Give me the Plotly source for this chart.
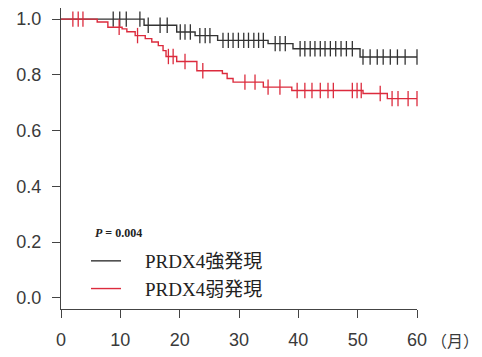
import plotly.graph_objects as go

# ---- data ----
months_ticks = [0, 10, 20, 30, 40, 50, 60]
surv_ticks = [0.0, 0.2, 0.4, 0.6, 0.8, 1.0]
surv_tick_labels = ["0.0", "0.2", "0.4", "0.6", "0.8", "1.0"]

strong_name = "PRDX4強発現"
strong_drop_times = [14.0, 19.5, 22.6, 26.4, 34.9, 39.1, 50.4]
strong_levels = [0.978, 0.954, 0.941, 0.924, 0.912, 0.894, 0.864]
strong_censor = [8.8, 9.9, 11.0, 13.3,
                 14.7, 16.7, 17.9,
                 20.1, 20.9, 21.8,
                 23.4, 24.3, 25.1,
                 27.3, 28.2, 29.0, 29.9, 30.8, 31.6, 32.5, 33.3, 34.1,
                 36.1, 36.9, 37.8,
                 40.3, 41.1, 42.0, 42.8, 43.7, 44.5, 45.4, 46.3, 47.2, 48.1, 49.1,
                 50.9, 52.1, 53.3, 54.3, 55.5, 56.7, 58.0, 60.0]

weak_name = "PRDX4弱発現"
weak_drop_times = [6.1, 7.9, 10.3, 11.1, 12.5, 14.2, 15.3, 16.4, 17.2, 17.7,
                   19.5, 22.9, 27.2, 28.0, 29.0, 34.1, 38.9, 50.9, 55.0]
weak_levels = [0.990, 0.971, 0.965, 0.955, 0.941, 0.930, 0.918, 0.905, 0.887, 0.866,
               0.848, 0.815, 0.805, 0.787, 0.774, 0.756, 0.744, 0.733, 0.715]
weak_censor = [2.0, 2.9, 3.7, 9.8, 12.9, 18.1, 18.9, 20.9, 23.9,
               31.0, 32.7, 34.9, 36.9,
               39.8, 41.1, 42.3, 43.7, 45.0, 45.9, 49.1, 49.9, 50.6,
               53.8, 55.8, 56.8, 58.5, 60.0]

p_text = "<b><i>P</i> = 0.004</b>"
unit_text = "（月）"
t_end = 60

STRONG_COLOR = "#333333"
WEAK_COLOR = "#dc2b3d"

# page body has an 8px default margin; figure is sized/positioned to compensate
FIG_W, FIG_H = 474, 349
PL, PT, PW, PH = 53, 0, 356, 301


def level_at(t, drops, levels):
    s = 1.0
    for d, l in zip(drops, levels):
        if t >= d:
            s = l
    return s


fig = go.Figure()

for name, drops, levels, cens, col in [
    (strong_name, strong_drop_times, strong_levels, strong_censor, STRONG_COLOR),
    (weak_name, weak_drop_times, weak_levels, weak_censor, WEAK_COLOR),
]:
    xs = [0] + drops + [t_end]
    ys = [1.0] + levels + [levels[-1]]
    fig.add_trace(go.Scatter(
        x=xs, y=ys, mode="lines", line=dict(shape="hv", color=col, width=1.4),
        name="\u00a0\u00a0\u00a0\u00a0" + name, hoverinfo="skip",
    ))
    fig.add_trace(go.Scatter(
        x=cens, y=[level_at(t, drops, levels) for t in cens], mode="markers",
        marker=dict(symbol="line-ns", size=11, line=dict(color=col, width=1.3)),
        showlegend=False, cliponaxis=False, hoverinfo="skip",
    ))

axis_common = dict(
    showline=True, linecolor="#444444", linewidth=1.2,
    ticks="outside", ticklen=8, tickwidth=1.2, tickcolor="#444444",
    showgrid=False, zeroline=False, automargin=False,
    tickfont=dict(family="Liberation Sans, Arial, sans-serif", size=18, color="#3a3a3a"),
)

fig.update_xaxes(range=[0, t_end], tickvals=months_ticks, ticklabelstandoff=6, **axis_common)
fig.update_yaxes(range=[-0.04, 1.04], tickvals=surv_ticks, ticktext=surv_tick_labels,
                 ticklabelstandoff=7, **axis_common)


def px_to_paper(xr, yr):
    # reference-picture pixel -> paper coords
    x = (xr - 8 - PL) / PW
    y = (PT + PH - (yr - 8)) / PH
    return x, y


px, py = px_to_paper(93, 233)
fig.add_annotation(
    text=p_text, xref="paper", yref="paper", x=px, y=py,
    xanchor="left", yanchor="middle", showarrow=False,
    font=dict(family="Liberation Serif, Times New Roman, serif", size=12, color="#222222"),
)
ux, uy = px_to_paper(455, 340)
fig.add_annotation(
    text=unit_text, xref="paper", yref="paper", x=ux, y=uy,
    xanchor="center", yanchor="middle", showarrow=False,
    font=dict(family="Noto Sans CJK JP, sans-serif", size=16, color="#3a3a3a"),
)

lx, ly = px_to_paper(86, 242)
fig.update_layout(
    width=FIG_W, height=FIG_H,
    margin=dict(l=PL, r=FIG_W - PL - PW, t=PT, b=FIG_H - PT - PH),
    paper_bgcolor="white", plot_bgcolor="white",
    showlegend=True,
    legend=dict(
        x=lx, y=ly, xanchor="left", yanchor="top",
        bgcolor="rgba(0,0,0,0)", borderwidth=0,
        font=dict(family="Liberation Serif, Noto Sans CJK JP, serif", size=19, color="#222222"),
        tracegroupgap=0,
    ),
)

fig.write_html("out.html")
